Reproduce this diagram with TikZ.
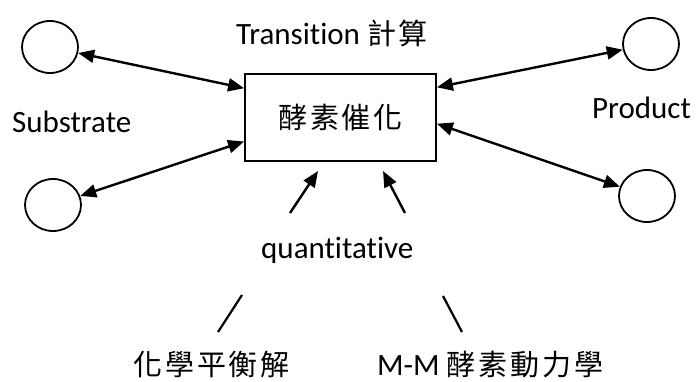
\documentclass[tikz,border=0pt]{standalone}
\usepackage{fontspec}
\setmainfont[Ligatures={NoCommon}]{Carlito}
\newfontfamily\cjk[LetterSpace=10]{Noto Sans CJK TC}
\usetikzlibrary{arrows.meta,shapes.geometric,calc}
\newcommand\zh[1]{{\fontsize{29}{29}\cjk #1}}

\begin{document}
\begin{tikzpicture}[x=1pt,y=-1pt,
  lbl/.style={anchor=base west,inner sep=0pt,font=\fontsize{31}{31}\selectfont},
  place/.style={ellipse,draw,line width=1.8pt,minimum width=56pt,minimum height=52pt,inner sep=0pt},
  tbox/.style={draw,line width=1.8pt,minimum width=191pt,minimum height=87pt,inner sep=0pt},
  tip/.tip={Triangle[length=16pt,width=13pt]},
  link/.style={line width=2.4pt,tip-tip},
  feed/.style={line width=2.4pt,-tip},
  stub/.style={line width=2.2pt}]

\useasboundingbox (0,0) rectangle (697,381);

% places
\node[place] (s1) at (50,47) {};
\node[place] (s2) at (53,205) {};
\node[place] (p1) at (651,44) {};
\node[place] (p2) at (647,196) {};

% transition
\node[tbox] (enz) at (340.5,117.5) {\zh{酵素催化}};

% labels
\node[lbl] (ttl) at (236,44) {Transition \zh{計算}};
\node[lbl] (sub) at (12,132) {Substrate};
\node[lbl] (prd) at (592,118) {Product};
\node[lbl] (qnt) at (261,258) {quantitative};
\node[lbl] (equ) at (133,375) {\zh{化學平衡解}};
\node[lbl] (mmk) at (377,375) {M-M \zh{酵素動力學}};

% arcs between places and transition
\coordinate (eL1) at ($(enz.north west)!0.17!(enz.south west)$);
\coordinate (eL2) at ($(enz.north west)!0.77!(enz.south west)$);
\coordinate (eR1) at ($(enz.north east)!0.16!(enz.south east)$);
\coordinate (eR2) at ($(enz.north east)!0.57!(enz.south east)$);
\draw[link] (s1) -- (eL1);
\draw[link] (s2) -- (eL2);
\draw[link] (eR1) -- (p1);
\draw[link] (eR2) -- (p2);

% quantitative inputs
\coordinate (qa1) at (290,213);
\coordinate (qa2) at (318,171);
\coordinate (qb1) at (405,213);
\coordinate (qb2) at (383,171);
\draw[feed] (qa1) -- (qa2);
\draw[feed] (qb1) -- (qb2);

% strokes towards the methods
\coordinate (ma1) at (242,295);
\coordinate (ma2) at (218,332);
\coordinate (mb1) at (443,296);
\coordinate (mb2) at (462,332);
\draw[stub] (ma1) -- (ma2);
\draw[stub] (mb1) -- (mb2);
\end{tikzpicture}
\end{document}
